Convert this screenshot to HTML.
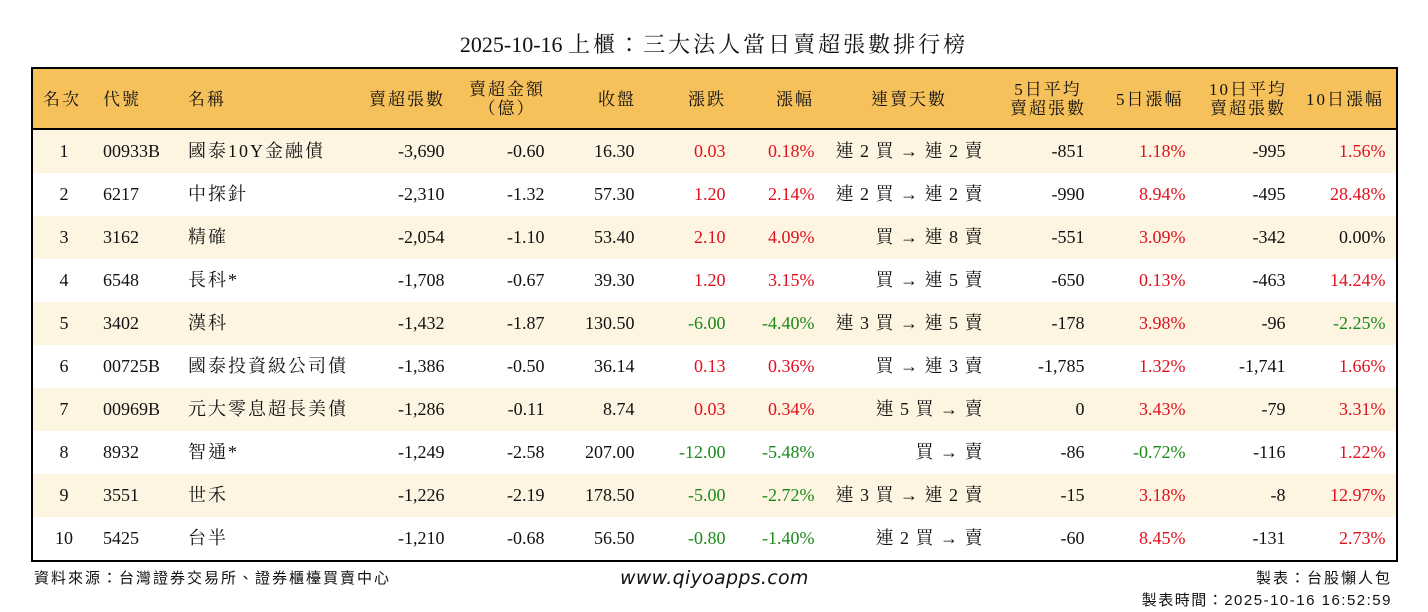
<!DOCTYPE html>
<html><head><meta charset="utf-8"><style>
*{margin:0;padding:0;box-sizing:border-box}
body{width:1428px;height:612px;background:#fff;position:relative;overflow:hidden;font-family:"Liberation Serif","Noto Serif CJK TC","Noto Serif CJK SC",serif;color:#111}
.t{position:absolute;white-space:nowrap}
#title{left:0;width:1428px;top:28px;text-align:center;font-size:22px}
#title span{letter-spacing:3px}
#tbl{position:absolute;left:31px;top:67px;width:1367px;height:495px;border:2.5px solid #000}
#hd{position:absolute;left:0;top:0;width:100%;height:62px;background:#f6c15a;border-bottom:3px solid #000}
.row{position:absolute;left:0;width:100%;height:43px}
.s{background:#fdf5e1}
.c{position:absolute;top:0;line-height:43px;font-size:18px;white-space:nowrap}
.cj{letter-spacing:2px}
.cj1{letter-spacing:1px}
.r{text-align:right;width:240px}
.h{position:absolute;font-size:17px;white-space:nowrap;line-height:19px;letter-spacing:2px}
.red{color:#e0101e}.grn{color:#1a8a1a}
.f{position:absolute;font-family:"Liberation Sans","Noto Sans CJK TC",sans-serif;font-size:15px;white-space:nowrap;letter-spacing:2px}
</style></head><body>
<div class="t" id="title">2025-10-16 <span>上櫃：三大法人當日賣超張數排行榜</span></div>
<div id="tbl">
<div id="hd">
<div class="h" style="left:10px;top:21px">名次</div>
<div class="h" style="left:70px;top:21px">代號</div>
<div class="h" style="left:155px;top:21px">名稱</div>
<div class="h" style="left:336px;top:21px">賣超張數</div>
<div class="h" style="left:424px;top:11px;text-align:center;width:100px">賣超金額<br>（億）</div>
<div class="h" style="left:565px;top:21px">收盤</div>
<div class="h" style="left:655px;top:21px">漲跌</div>
<div class="h" style="left:743px;top:21px">漲幅</div>
<div class="h" style="left:838px;top:21px">連賣天數</div>
<div class="h" style="left:965px;top:11px;text-align:center;width:100px">5日平均<br>賣超張數</div>
<div class="h" style="left:1083px;top:21px">5日漲幅</div>
<div class="h" style="left:1165px;top:11px;text-align:center;width:100px">10日平均<br>賣超張數</div>
<div class="h" style="left:1273px;top:21px">10日漲幅</div>
</div>
<div id="rows"></div>
</div>
<div class="f" style="left:34px;top:567px">資料來源：台灣證券交易所、證券櫃檯買賣中心</div>
<div class="f" style="left:620px;top:567px;font-size:19px;font-style:italic;font-family:'DejaVu Sans','Liberation Sans',sans-serif;letter-spacing:0.3px">www.qiyoapps.com</div>
<div class="f" style="right:36px;top:567px">製表：台股懶人包</div>
<div class="f" style="right:36px;top:589px;letter-spacing:1.5px">製表時間：2025-10-16 16:52:59</div>
<script>
var d=[
["1","00933B","國泰10Y金融債","-3,690","-0.60","16.30","0.03","0.18%","連 2 買 → 連 2 賣","-851","1.18%","-995","1.56%"],
["2","6217","中探針","-2,310","-1.32","57.30","1.20","2.14%","連 2 買 → 連 2 賣","-990","8.94%","-495","28.48%"],
["3","3162","精確","-2,054","-1.10","53.40","2.10","4.09%","買 → 連 8 賣","-551","3.09%","-342","0.00%"],
["4","6548","長科*","-1,708","-0.67","39.30","1.20","3.15%","買 → 連 5 賣","-650","0.13%","-463","14.24%"],
["5","3402","漢科","-1,432","-1.87","130.50","-6.00","-4.40%","連 3 買 → 連 5 賣","-178","3.98%","-96","-2.25%"],
["6","00725B","國泰投資級公司債","-1,386","-0.50","36.14","0.13","0.36%","買 → 連 3 賣","-1,785","1.32%","-1,741","1.66%"],
["7","00969B","元大零息超長美債","-1,286","-0.11","8.74","0.03","0.34%","連 5 買 → 賣","0","3.43%","-79","3.31%"],
["8","8932","智通*","-1,249","-2.58","207.00","-12.00","-5.48%","買 → 賣","-86","-0.72%","-116","1.22%"],
["9","3551","世禾","-1,226","-2.19","178.50","-5.00","-2.72%","連 3 買 → 連 2 賣","-15","3.18%","-8","12.97%"],
["10","5425","台半","-1,210","-0.68","56.50","-0.80","-1.40%","連 2 買 → 賣","-60","8.45%","-131","2.73%"]];
var R=[0,0,0,445,545,635,726,815,983,1085,1186,1286,1386];
function col(v){if(v=="0.00%")return"";return v.charAt(0)=="-"?"grn":"red";}
var h="";
d.forEach(function(r,i){
var top=63+43.1*i-2.5;
h+='<div class="row'+(i%2==0?' s':'')+'" style="top:'+top+'px">';
h+='<div class="c" style="left:0;width:62px;text-align:center">'+r[0]+'</div>';
h+='<div class="c" style="left:70px">'+r[1]+'</div>';
h+='<div class="c cj" style="left:155px">'+r[2]+'</div>';
for(var k=3;k<13;k++){
var cl="";
if(k==6||k==7||k==10||k==12)cl=col(r[k]);
if(k==8)cl="cj1";
var ls=(k==8)?1:0;
h+='<div class="c r '+cl+'" style="left:'+(R[k]-33.5-240+ls)+'px">'+r[k]+'</div>';}
h+='</div>';});
document.getElementById("rows").innerHTML=h;
</script>
</body></html>
